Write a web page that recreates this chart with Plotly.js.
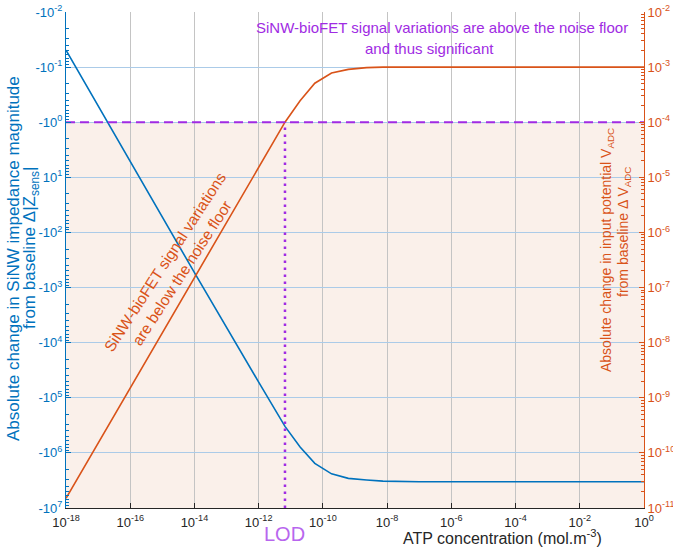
<!DOCTYPE html>
<html>
<head>
<meta charset="utf-8">
<script src="https://cdn.plot.ly/plotly-3.0.1.min.js"></script>
<style>
  html, body { margin: 0; padding: 0; background: #ffffff; }
  #chart { width: 673px; height: 550px; }
</style>
</head>
<body>
<div id="chart"></div>
<script>
// ---- data ----
const concentration = [1e-18, 1e-16, 1e-14, 1e-12, 6.6e-12, 1.95e-11, 5.6e-11, 1.86e-10, 6.2e-10, 2.3e-9, 7.4e-9, 1e-7, 1e-5, 1e-3, 1];
const impedanceChange = [0.049, 5.2, 537, 5.2e4, 3.3e5, 7.8e5, 1.55e6, 2.4e6, 2.9e6, 3.1e6, 3.25e6, 3.35e6, 3.35e6, 3.35e6, 3.35e6];
const potentialChange = [1.5e-11, 1.5e-9, 1.5e-7, 1.48e-5, 1.0e-4, 2.45e-4, 5.1e-4, 7.8e-4, 9.1e-4, 9.8e-4, 1.0e-3, 1.0e-3, 1.0e-3, 1.0e-3, 1.0e-3];
const noiseFloorV = 1e-4;       // right axis noise floor
const lodConcentration = 6.6e-12;

const xTickExps = [-18, -16, -14, -12, -10, -8, -6, -4, -2, 0];
const leftTickExps = [-2, -1, 0, 1, 2, 3, 4, 5, 6, 7];
const leftTickText = ['-10<sup>-2</sup>', '-10<sup>-1</sup>', '-10<sup>0</sup>', '10<sup>1</sup>', '-10<sup>2</sup>', '-10<sup>3</sup>', '-10<sup>4</sup>', '-10<sup>5</sup>', '-10<sup>6</sup>', '-10<sup>7</sup>'];
const rightTickExps = [-2, -3, -4, -5, -6, -7, -8, -9, -10, -11];
const rightRange = [-11, -2];

// ---- styles ----
const BLUE = '#0072BD';
const ORANGE = '#D95319';
const PURPLE = '#A02BE3';
const FONT = 'Liberation Sans, Arial, Helvetica, sans-serif';

function minorVals(d0, d1) {
  const out = [];
  for (let d = d0; d < d1; d++) for (let k = 2; k <= 9; k++) out.push(k * Math.pow(10, d));
  return out;
}

const traces = [
  {
    x: concentration, y: impedanceChange, yaxis: 'y', type: 'scatter', mode: 'lines',
    line: { color: BLUE, width: 1.6 }, hoverinfo: 'skip'
  },
  {
    x: concentration, y: potentialChange, yaxis: 'y2', type: 'scatter', mode: 'lines',
    line: { color: ORANGE, width: 1.6 }, hoverinfo: 'skip'
  },
  {
    x: [concentration[0], concentration[concentration.length - 1]], y: [noiseFloorV, noiseFloorV],
    yaxis: 'y2', type: 'scatter', mode: 'lines',
    line: { color: PURPLE, width: 2, dash: '9px,5px' }, hoverinfo: 'skip'
  },
  {
    x: [lodConcentration, lodConcentration], y: [1e-11, noiseFloorV],
    yaxis: 'y2', type: 'scatter', mode: 'lines',
    line: { color: PURPLE, width: 2.5, dash: '2.5px,4.5px' }, hoverinfo: 'skip'
  }
];

const pw = 578, ph = 496, L = 66, T = 12;
const px = v => (v - L) / pw;
const py = v => (T + ph - v) / ph;
// fraction of plot height below the noise floor (right axis, log)
const floorFrac = (Math.log10(noiseFloorV) - rightRange[0]) / (rightRange[1] - rightRange[0]);

const layout = {
  width: 673, height: 550,
  margin: { l: 66, r: 29, t: 12, b: 42, pad: 0 },
  paper_bgcolor: '#ffffff', plot_bgcolor: '#ffffff',
  showlegend: false,
  font: { family: FONT, size: 13, color: '#262626' },
  xaxis: {
    type: 'log', range: [-18, 0],
    tickmode: 'array',
    tickvals: xTickExps.map(e => Math.pow(10, e)),
    ticktext: xTickExps.map(e => '10<sup>' + e + '</sup>'),
    ticks: 'inside', ticklen: 5, tickcolor: '#262626', tickwidth: 1,
    ticklabelstandoff: 2,
    tickfont: { family: FONT, size: 13, color: '#262626' },
    showline: true, linecolor: '#262626', linewidth: 1,
    showgrid: true, gridcolor: '#c4c4c4', gridwidth: 1.2,
    zeroline: false
  },
  yaxis: {
    type: 'log', range: [7, -2],
    tickmode: 'array',
    tickvals: leftTickExps.map(e => Math.pow(10, e)),
    ticktext: leftTickText,
    ticks: 'inside', ticklen: 5, tickcolor: BLUE, tickwidth: 1,
    tickfont: { family: FONT, size: 13, color: BLUE },
    minor: { tickmode: 'array', tickvals: minorVals(-2, 7), ticks: 'inside', ticklen: 3, tickcolor: BLUE, showgrid: false },
    showline: true, linecolor: BLUE, linewidth: 1,
    showgrid: true, gridcolor: '#abcbe8', gridwidth: 1,
    zeroline: false
  },
  yaxis2: {
    type: 'log', range: rightRange,
    overlaying: 'y', side: 'right',
    tickmode: 'array',
    tickvals: rightTickExps.map(e => Math.pow(10, e)),
    ticktext: rightTickExps.map(e => '10<sup>' + e + '</sup>'),
    ticks: 'inside', ticklen: 5, tickcolor: ORANGE, tickwidth: 1,
    tickfont: { family: FONT, size: 13, color: ORANGE },
    minor: { tickmode: 'array', tickvals: minorVals(-11, -2), ticks: 'inside', ticklen: 3, tickcolor: ORANGE, showgrid: false },
    showline: true, linecolor: ORANGE, linewidth: 1,
    showgrid: false, zeroline: false
  },
  shapes: [
    {
      type: 'rect', layer: 'below', xref: 'paper', yref: 'paper',
      x0: 0, x1: 1, y0: 0, y1: floorFrac,
      fillcolor: '#faf0ea', line: { width: 0 }
    }
  ],
  annotations: [
    { xref: 'paper', yref: 'paper', x: px(442), y: py(27), xanchor: 'center', yanchor: 'middle', showarrow: false,
      text: 'SiNW-bioFET signal variations are above the noise floor', font: { family: FONT, size: 15, color: PURPLE } },
    { xref: 'paper', yref: 'paper', x: px(429), y: py(48), xanchor: 'center', yanchor: 'middle', showarrow: false,
      text: 'and thus significant', font: { family: FONT, size: 15, color: PURPLE } },
    { xref: 'paper', yref: 'paper', x: px(173), y: py(267), xanchor: 'center', yanchor: 'middle', showarrow: false,
      textangle: -57,
      text: 'SiNW-bioFET signal variations<br>are below the noise floor', font: { family: FONT, size: 15.5, color: ORANGE } },
    { xref: 'paper', yref: 'paper', x: px(607), y: py(250), xanchor: 'center', yanchor: 'middle', showarrow: false,
      textangle: -90,
      text: 'Absolute change in input potential V<sub>ADC</sub>', font: { family: FONT, size: 14, color: ORANGE } },
    { xref: 'paper', yref: 'paper', x: px(624), y: py(232), xanchor: 'center', yanchor: 'middle', showarrow: false,
      textangle: -90,
      text: 'from baseline Δ V<sub>ADC</sub>', font: { family: FONT, size: 14, color: ORANGE } },
    { xref: 'paper', yref: 'paper', x: px(13), y: py(259), xanchor: 'center', yanchor: 'middle', showarrow: false,
      textangle: -90,
      text: 'Absolute change in SiNW impedance magnitude', font: { family: FONT, size: 17, color: BLUE } },
    { xref: 'paper', yref: 'paper', x: px(31), y: py(248), xanchor: 'center', yanchor: 'middle', showarrow: false,
      textangle: -90,
      text: 'from baseline Δ|Z<sub>sens</sub>|', font: { family: FONT, size: 17, color: BLUE } },
    { xref: 'paper', yref: 'paper', x: px(502), y: py(537), xanchor: 'center', yanchor: 'middle', showarrow: false,
      text: 'ATP concentration (mol.m<sup>-3</sup>)', font: { family: FONT, size: 16, color: '#262626' } },
    { xref: 'x', yref: 'paper', x: Math.log10(lodConcentration), y: py(534), xanchor: 'center', yanchor: 'middle', showarrow: false,
      text: 'LOD', font: { family: FONT, size: 20, color: '#B866EE' } }
  ]
};

Plotly.newPlot('chart', traces, layout, { staticPlot: true, displayModeBar: false });
</script>
</body>
</html>
